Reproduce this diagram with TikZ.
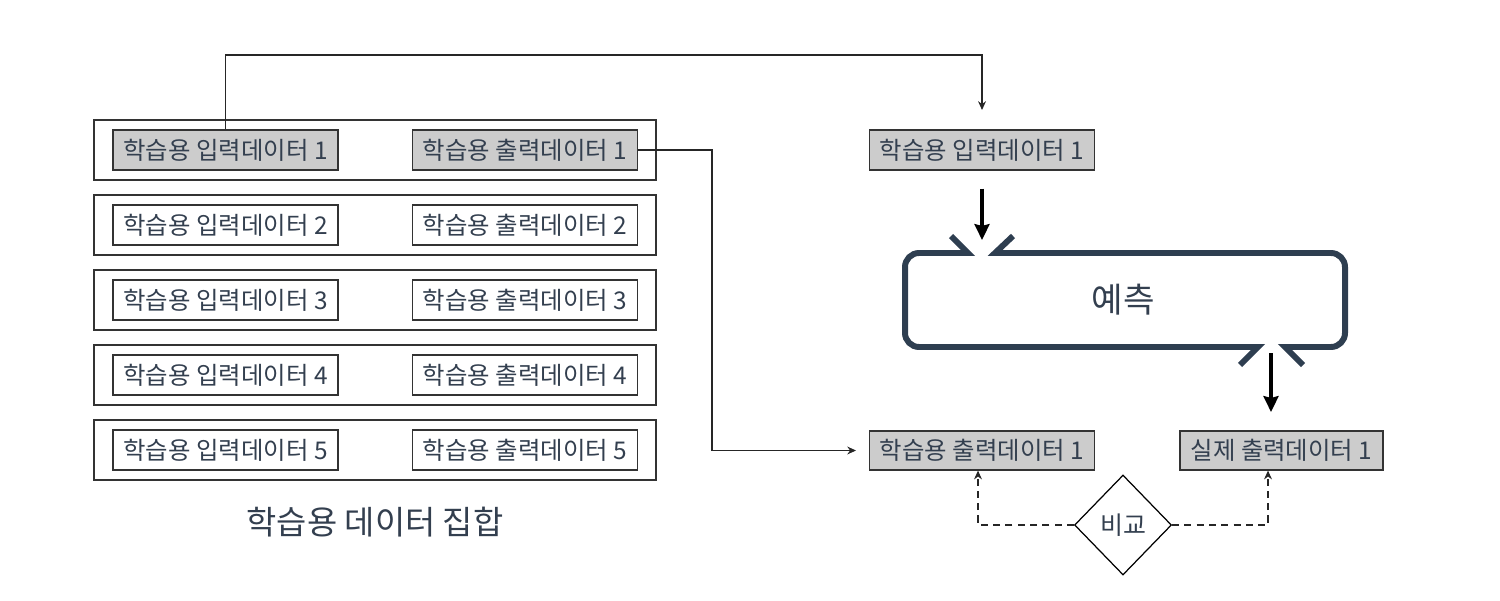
\documentclass[tikz,border=0pt]{standalone}
\usepackage{fontspec}
\setmainfont{Noto Sans CJK KR}
\usetikzlibrary{arrows.meta,shapes.geometric}

\definecolor{txtcol}{HTML}{333F4F}
\definecolor{predcol}{HTML}{2E3E50}
\definecolor{boxgray}{HTML}{CCCCCC}

\tikzset{
  databox/.style={draw=black!80,line width=0.7pt,minimum width=4.5cm,minimum height=0.8cm,
    inner sep=0pt,text=txtcol,font=\fontsize{13.9}{16}\selectfont},
  rowbox/.style={draw=black!80,line width=0.7pt,minimum width=11.24cm,minimum height=1.2cm,inner sep=0pt},
  thinarrow/.style={draw=black!85,line width=0.6pt,-{Stealth[length=5pt,width=4.5pt]}},
  thickarrow/.style={draw=black,line width=2pt,-{Stealth[length=9pt,width=8.5pt,inset=1pt]}},
  predline/.style={draw=predcol,line width=3.4pt},
  bigtext/.style={text=txtcol,font=\fontsize{18.7}{22}\selectfont}
}

\begin{document}
\begin{tikzpicture}[x=0.02cm,y=-0.02cm]
\useasboundingbox (0,0) rectangle (1500,601);

% training data set
\foreach \i/\fc in {1/boxgray,2/white,3/white,4/white,5/white} {
  \pgfmathsetmacro\yy{150+75*(\i-1)}
  \node[rowbox] (row\i) at (375,\yy) {};
  \node[databox,fill=\fc] (in\i) at (225.5,\yy) {학습용 입력데이터 \i};
  \node[databox,fill=\fc] (out\i) at (525,\yy) {학습용 출력데이터 \i};
}
\node[bigtext] (setlabel) at (375,522) {학습용 데이터 집합};

% right side
\node[databox,fill=boxgray] (pin) at (982,150) {학습용 입력데이터 1};
\node[databox,fill=boxgray,minimum height=0.78cm] (pout) at (982,450.5) {학습용 출력데이터 1};
\node[databox,fill=boxgray,minimum width=4.06cm,minimum height=0.78cm] (real) at (1281.5,450.5) {실제 출력데이터 1};
\node[bigtext,font=\fontsize{19.5}{22}\selectfont] (pred) at (1123,300) {예측};
\node[diamond,draw=black,line width=0.7pt,fill=white,minimum width=1.94cm,minimum height=2cm,
  inner sep=0pt,text=txtcol,font=\fontsize{14.2}{16}\selectfont] (cmp) at (1123,525) {비교};

% prediction frame
\draw[predline] (951,236) -- (968,253) [rounded corners=8pt] -- (905,253) -- (905,347)
  [sharp corners] -- (1258,347) -- (1240,365);
\draw[predline] (1013,236) -- (995,253) [rounded corners=8pt] -- (1345,253) -- (1345,347)
  [sharp corners] -- (1285,347) -- (1303,365);

% connectors
\coordinate (toprail) at (0,55);
\coordinate (pintop) at (982,110);
\coordinate (outrail) at (712,0);
\coordinate (poutend) at (856,450.5);
\coordinate (predtop) at (982,240);
\coordinate (predbot) at (1271,353);
\coordinate (realtop) at (1271,412);

\draw[thinarrow] (in1.north) -- (in1.north |- toprail) -| (pintop);
\draw[thinarrow] (out1.east) -- (out1.east -| outrail) |- (poutend);
\draw[thickarrow,shorten <=0.36cm] (pin.south) -- (predtop);
\draw[thickarrow] (predbot) -- (realtop);
\draw[thinarrow,dash pattern=on 4pt off 3pt] (cmp.west) -| ([xshift=-0.08cm]pout.south);
\draw[thinarrow,dash pattern=on 4pt off 3pt] (cmp.east) -| ([xshift=-0.27cm]real.south);
\end{tikzpicture}
\end{document}
